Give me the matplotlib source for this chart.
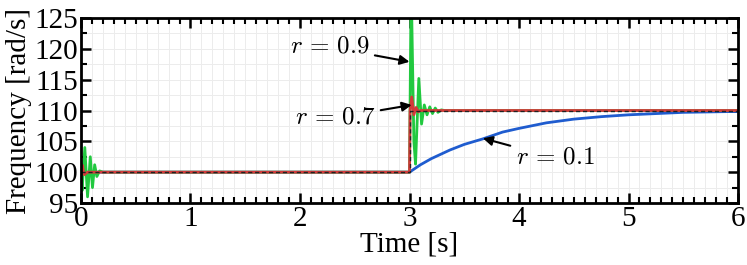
import matplotlib
matplotlib.use("Agg")
import matplotlib.pyplot as plt
from matplotlib.ticker import MultipleLocator

# reference (black dashed)
t_ref = [0, 3.0, 3.0, 6.0]
f_ref = [100, 100, 110, 110]

# r = 0.1 (blue)
t_01 = [0, 3.0, 3.1, 3.2, 3.37, 3.5, 3.67, 3.85, 4.0, 4.25, 4.5, 4.75, 5.0, 5.5, 6.0]
f_01 = [100, 100, 101.2, 102.2, 103.6, 104.5, 105.4, 106.5, 107.1, 108.0, 108.6, 109.0, 109.3, 109.7, 109.85]

# r = 0.9 (green)
t_09 = [0, 0.01, 0.035, 0.06, 0.085, 0.105, 0.125, 0.145, 0.17, 0.2,
        3.0, 3.015, 3.04, 3.055, 3.085, 3.11, 3.135, 3.16, 3.185, 3.21, 3.235, 3.26, 3.29, 3.32, 6.0]
f_09 = [100, 97, 104, 96, 102.5, 97.5, 101.2, 99.3, 100.2, 100,
        100, 131, 105, 101.3, 115.2, 107.8, 110.9, 109.3, 110.6, 109.5, 110.4, 109.7, 110.1, 110, 110]

# r = 0.7 (red)
t_07 = [0, 0.01, 0.03, 0.06, 3.0, 3.005, 3.02, 3.04, 3.06, 3.08, 3.1, 6.0]
f_07 = [100, 101.2, 99.6, 100, 100, 110, 112.2, 109.3, 110.5, 109.8, 110, 110]

plt.rcParams['font.family'] = 'Liberation Serif'
plt.rcParams['mathtext.fontset'] = 'cm'

fig = plt.figure(figsize=(7.47, 2.65), dpi=100)
ax = fig.add_axes([0.1084, 0.234, 0.8796, 0.698])

ax.plot(t_01, f_01, color='#1f5ccf', lw=2)
ax.plot(t_09, f_09, color='#22c940', lw=2)
ax.plot(t_07, f_07, color='#d43a3a', lw=2)
ax.plot(t_ref, f_ref, color='#222222', lw=1, ls=(0, (3, 2)))

ax.set_xlim(0, 6)
ax.set_ylim(95, 125)
ax.xaxis.set_major_locator(MultipleLocator(1))
ax.xaxis.set_minor_locator(MultipleLocator(0.1))
ax.yaxis.set_major_locator(MultipleLocator(5))
ax.yaxis.set_minor_locator(MultipleLocator(2.5))
ax.tick_params(which='both', direction='in', top=True, right=True, width=1.8, labelsize=21, pad=2)
ax.tick_params(which='major', length=7)
ax.tick_params(which='minor', length=4, width=1.5)
ax.grid(which='both', color='#ececec', lw=0.7)
ax.set_axisbelow(True)
for s in ax.spines.values():
    s.set_linewidth(2)

ax.set_xlabel('Time [s]', fontsize=21, labelpad=0)
ax.set_ylabel('Frequency [rad/s]', fontsize=21, labelpad=2)

arrow = dict(arrowstyle='-|>', color='k', lw=1.5, mutation_scale=14, shrinkA=2, shrinkB=0)
ax.annotate(r'$r\,=\,0.9$', xy=(3.0, 117.9), xytext=(2.27, 120.3), fontsize=18,
            ha='center', va='center', arrowprops=arrow)
ax.annotate(r'$r\,=\,0.7$', xy=(3.02, 110.9), xytext=(2.32, 108.8), fontsize=18,
            ha='center', va='center', arrowprops=arrow)
ax.annotate(r'$r\,=\,0.1$', xy=(3.67, 105.5), xytext=(4.33, 102.3), fontsize=18,
            ha='center', va='center', arrowprops=arrow)

fig.savefig('out.png', dpi=100)
